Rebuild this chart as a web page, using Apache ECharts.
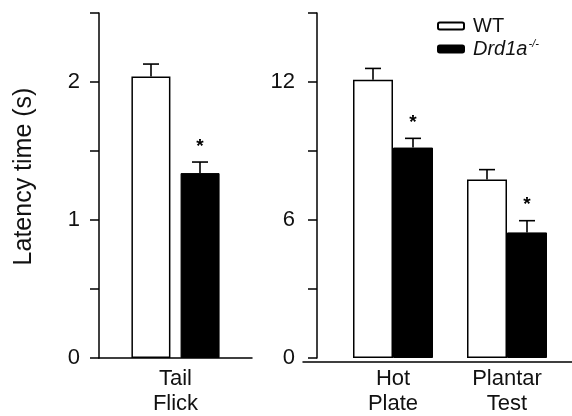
<!DOCTYPE html>
<html>
<head>
<meta charset="utf-8">
<script src="https://cdn.jsdelivr.net/npm/echarts@6/dist/echarts.min.js"></script>
<style>html,body{margin:0;padding:0;background:#fff;}#c{width:572px;height:416px;}</style>
</head>
<body>
<div id="c"></div>
<script>
// ---- data ----
const catsLeft = ['Tail\nFlick'];
const catsRight = ['Hot\nPlate', 'Plantar\nTest'];
const wtLeft = [2.04];
const wtLeftErr = [0.09];
const koLeft = [1.34];
const koLeftErr = [0.08];
const wtRight = [12.1, 7.76];
const wtRightErr = [0.49, 0.43];
const koRight = [9.15, 5.46];
const koRightErr = [0.40, 0.51];
const leftTickLabels = [0, 1, 2];
const rightTickLabels = [0, 6, 12];
const seriesNames = ['WT', 'KO'];

const FONT = 'Liberation Sans, Arial, sans-serif';
const INK = '#111';

function errData(vals, errs) {
  return vals.map((v, i) => [i, v, errs[i]]);
}
function errRender(sign, barW, gap, star) {
  return function (params, api) {
    const i = api.value(0), v = api.value(1), e = api.value(2);
    const b = api.coord([i, v]);
    const t = api.coord([i, v + e]);
    const x = b[0] + sign * (barW + gap) / 2;
    const st = { stroke: '#000', lineWidth: 1.6 };
    const ch = [
      { type: 'line', shape: { x1: x, y1: b[1], x2: x, y2: t[1] }, style: st },
      { type: 'line', shape: { x1: x - 8, y1: t[1], x2: x + 8, y2: t[1] }, style: st }
    ];
    if (star) {
      ch.push({ type: 'text', x: x, y: t[1] - 6,
        style: { text: '*', fill: '#000', font: 'bold 19px ' + FONT, align: 'center', verticalAlign: 'bottom' } });
    }
    return { type: 'group', children: ch };
  };
}

const axisLineStyle = { color: '#000', width: 1.5 };

const option = {
  animation: false,
  backgroundColor: '#fff',
  legend: {
    orient: 'vertical', left: 432, top: 11, itemWidth: 26, itemHeight: 7, itemGap: 2,
    data: seriesNames,
    formatter: function (n) { return n === 'KO' ? '{i|Drd1a}{s|-/-}' : '{r|WT}'; },
    textStyle: {
      fontFamily: FONT, color: INK, fontSize: 20,
      rich: {
        r: { fontFamily: FONT, fontSize: 20, color: INK, lineHeight: 22, padding: [0, 0, 0, 4] },
        i: { fontFamily: FONT, fontSize: 20, fontStyle: 'italic', color: INK, lineHeight: 22, padding: [0, 0, 0, 4] },
        s: { fontFamily: FONT, fontSize: 11, fontStyle: 'italic', color: INK, lineHeight: 22, verticalAlign: 'top', padding: [0, 0, 6, 1] }
      }
    }
  },
  grid: [
    { left: 99, right: 320, top: 13, bottom: 54 },
    { left: 336, right: 8, top: 13, bottom: 54 },
    { left: 303, right: 0, top: 13, bottom: 54 }
  ],
  xAxis: [
    { type: 'category', gridIndex: 0, data: catsLeft,
      axisLine: { lineStyle: axisLineStyle },
      axisTick: { alignWithLabel: true, length: 5, lineStyle: axisLineStyle },
      axisLabel: { fontFamily: FONT, fontSize: 22, color: INK, lineHeight: 25, margin: 8 } },
    { type: 'category', gridIndex: 1, data: catsRight,
      axisLine: { show: false },
      axisTick: { alignWithLabel: true, length: 5, lineStyle: axisLineStyle },
      axisLabel: { fontFamily: FONT, fontSize: 22, color: INK, lineHeight: 25, margin: 8 } },
    { type: 'value', gridIndex: 2, min: 0, max: 1,
      axisLine: { show: true, lineStyle: axisLineStyle },
      axisTick: { show: false }, axisLabel: { show: false }, splitLine: { show: false } }
  ],
  yAxis: [
    { type: 'value', gridIndex: 0, min: 0, max: 2.5, interval: 0.5,
      name: 'Latency time (s)', nameLocation: 'middle', nameGap: 62,
      nameTextStyle: { fontFamily: FONT, fontSize: 25, color: INK, padding: [0, 0, 0, 18] },
      axisLine: { show: true, lineStyle: axisLineStyle },
      axisTick: { show: true, length: 9, lineStyle: axisLineStyle },
      splitLine: { show: false },
      axisLabel: { fontFamily: FONT, fontSize: 22, color: INK, margin: 19,
        formatter: v => leftTickLabels.includes(v) ? String(v) : '' } },
    { type: 'value', gridIndex: 1, min: 0, max: 15, interval: 3, offset: 19,
      axisLine: { show: true, lineStyle: axisLineStyle },
      axisTick: { show: true, length: 9, lineStyle: axisLineStyle },
      splitLine: { show: false },
      axisLabel: { fontFamily: FONT, fontSize: 22, color: INK, margin: 22,
        formatter: v => rightTickLabels.includes(v) ? String(v) : '' } },
    { type: 'value', gridIndex: 2, show: false, min: 0, max: 1 }
  ],
  series: [
    { name: 'WT', type: 'bar', xAxisIndex: 0, yAxisIndex: 0, data: wtLeft, barWidth: 39, barGap: '26%',
      itemStyle: { color: '#fff', borderColor: '#000', borderWidth: 1.5 } },
    { name: 'KO', type: 'bar', xAxisIndex: 0, yAxisIndex: 0, data: koLeft, barWidth: 39, barGap: '26%',
      itemStyle: { color: '#000', borderColor: '#000', borderWidth: 1 } },
    { name: 'WT', type: 'bar', xAxisIndex: 1, yAxisIndex: 1, data: wtRight, barWidth: 40, barGap: '0%',
      itemStyle: { color: '#fff', borderColor: '#000', borderWidth: 1.5 } },
    { name: 'KO', type: 'bar', xAxisIndex: 1, yAxisIndex: 1, data: koRight, barWidth: 40, barGap: '0%',
      itemStyle: { color: '#000', borderColor: '#000', borderWidth: 1 } },
    { type: 'custom', xAxisIndex: 0, yAxisIndex: 0, z: 5, data: errData(wtLeft, wtLeftErr), renderItem: errRender(-1, 39, 10, false) },
    { type: 'custom', xAxisIndex: 0, yAxisIndex: 0, z: 5, data: errData(koLeft, koLeftErr), renderItem: errRender(1, 39, 10, true) },
    { type: 'custom', xAxisIndex: 1, yAxisIndex: 1, z: 5, data: errData(wtRight, wtRightErr), renderItem: errRender(-1, 40, 0, false) },
    { type: 'custom', xAxisIndex: 1, yAxisIndex: 1, z: 5, data: errData(koRight, koRightErr), renderItem: errRender(1, 40, 0, true) }
  ]
};
const chart = echarts.init(document.getElementById('c'), null, { renderer: 'canvas' });
chart.setOption(option);
</script>
</body>
</html>
